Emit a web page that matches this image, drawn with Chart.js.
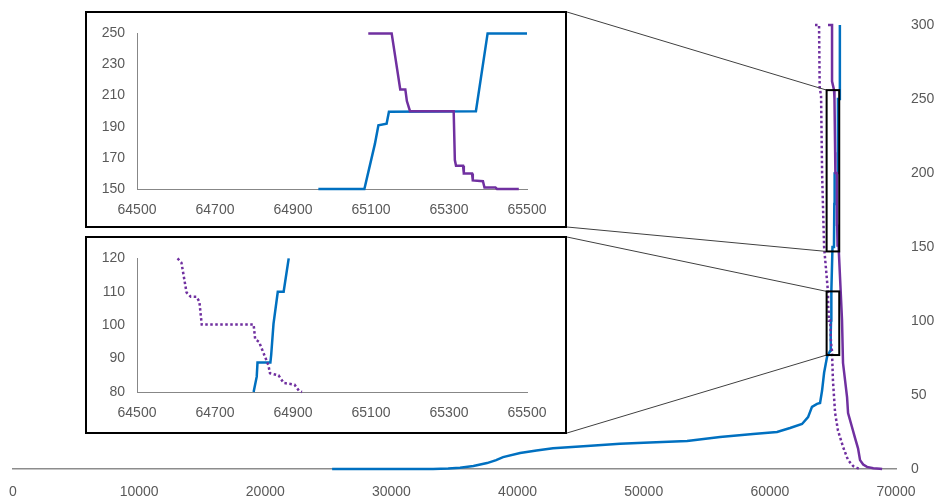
<!DOCTYPE html>
<html>
<head>
<meta charset="utf-8">
<script src="https://cdn.jsdelivr.net/npm/chart.js@4.4.0/dist/chart.umd.min.js"></script>
<style>
  body { margin: 0; background: #fff; }
  #main { position: absolute; left: 0; top: 0; }
  .inset { position: absolute; border: 2px solid #000; background: #fff; }
  #box1 { left: 85px; top: 11px; width: 478px; height: 213px; }
  #box2 { left: 85px; top: 236px; width: 478px; height: 194px; }
  .inset canvas { display: block; }
</style>
</head>
<body>
<canvas id="main" width="936" height="499"></canvas>
<div class="inset" id="box1"><canvas id="c1" width="478" height="213"></canvas></div>
<div class="inset" id="box2"><canvas id="c2" width="478" height="194"></canvas></div>
<script>
// Blue series, pieces outside the zoom windows
const blueLow = [[25300,0],[33300,0],[34500,0.3],[35440,0.8],[36500,2],[37580,4],[38300,6],[38850,8],
  [40200,10.8],[41500,12.5],[42810,14],[45510,15.5],[48120,17],[50000,17.8],[53440,19],[56050,21.6],
  [58670,23.6],[60570,25],[61600,27.7],[62550,30.4],[63030,35],[63340,42],[63740,44],[63980,44.6],
  [64140,53],[64300,65],[64540,76]];
const blueTop = [[65550,252],[65550,300]];

// Purple solid series
const purpleTop = [[64610,300],[64930,300],[64930,262],[65090,256]];
const purpleLow = [[65560,130],[65720,100.7],[65800,71.6],[66120,48.6],[66200,37.8],[66510,28.4],
  [66750,21],[66990,14],[67150,6],[67400,3],[67700,1.4],[68200,0.5],[68730,0.2],[68900,0]];

// Purple dotted series
const dottedTop = [[63580,300],[63900,300],[63950,258],[64060,252],[64140,200],[64300,150]];
const dottedLow = [[65000,60],[65170,38],[65400,26],[65800,15],[66200,6],[66600,2],[66910,0.7],[67150,0]];

// Upper zoom window (150-250)
const inset1Blue = [[64965,150],[65083,150],[65110,179],[65119,191],[65140,192],[65146,199.7],
  [65369,200],[65399,250],[65500,250]];
const inset1Purple = [[65093,250],[65153,250],[65175,214],[65188,214],[65192,206.5],[65200,200],
  [65312,200],[65315,168.6],[65318,165],[65336,165],[65338,160],[65359,160],[65361,155.5],
  [65387,155],[65391,151],[65419,151],[65423,150],[65479,150]];

// Lower zoom window (80-120)
const inset2Blue = [[64799,80],[64807,84.6],[64809,88.8],[64842,88.8],[64844,91],[64850,100.4],
  [64861,110],[64876,110],[64889,120]];
const inset2Dotted = [[64604,120],[64614,118.7],[64627,109.8],[64638,108.5],[64653,108.5],[64660,107],
  [64666,100.2],[64799,100.2],[64803,95.8],[64813,95],[64837,88],[64841,85.6],[64863,85],
  [64876,82.7],[64904,82.2],[64915,80.4],[64923,80]];

// Zoom rectangles drawn on the main chart (data units)
const zoomBoxes = [
  { xMin: 64500, xMax: 65500, yMin: 147, yMax: 256, box: 'box1' },
  { xMin: 64500, xMax: 65500, yMin: 77, yMax: 120, box: 'box2' }
];

const BLUE = '#0070C0';
const PURPLE = '#7030A0';
const FONT = { family: 'Liberation Sans', size: 14 };
const TICK = '#595959';

function pts(arr) { return arr.map(p => ({ x: p[0], y: p[1] })); }

function serie(arr, color, dotted) {
  return {
    data: pts(arr),
    borderColor: color,
    borderWidth: 2.5,
    borderDash: dotted ? [2.5, 2.5] : [],
    pointRadius: 0,
    showLine: true,
    fill: false,
    tension: 0,
    clip: false
  };
}

Chart.defaults.animation = false;
Chart.defaults.events = [];

// Draws zoom rectangles and the connector lines to the inset boxes
const zoomPlugin = {
  id: 'zoomPlugin',
  afterDatasetsDraw(chart) {
    const { ctx, scales: { x, y } } = chart;
    const base = chart.canvas.getBoundingClientRect();
    zoomBoxes.forEach(z => {
      const l = x.getPixelForValue(z.xMin), r = x.getPixelForValue(z.xMax);
      const t = y.getPixelForValue(z.yMax), b = y.getPixelForValue(z.yMin);
      const box = document.getElementById(z.box).getBoundingClientRect();
      ctx.save();
      ctx.strokeStyle = '#404040';
      ctx.lineWidth = 1;
      ctx.beginPath();
      ctx.moveTo(box.right - base.left, box.top - base.top + 1);
      ctx.lineTo(l, t);
      ctx.moveTo(box.right - base.left, box.bottom - base.top - 1);
      ctx.lineTo(l, b);
      ctx.stroke();
      ctx.strokeStyle = '#000';
      ctx.lineWidth = 2;
      ctx.strokeRect(l, t, r - l, b - t);
      ctx.restore();
    });
  }
};

new Chart(document.getElementById('main'), {
  type: 'scatter',
  data: {
    datasets: [
      serie(dottedTop.concat(inset2Dotted, dottedLow), PURPLE, true),
      serie(purpleTop.concat(inset1Purple, purpleLow), PURPLE, false),
      serie(blueLow.concat(inset2Blue, inset1Blue, blueTop), BLUE, false)
    ]
  },
  options: {
    responsive: false,
    layout: { padding: { left: 13, top: 25, right: 0, bottom: 0 } },
    plugins: { legend: { display: false }, tooltip: { enabled: false } },
    scales: {
      x: {
        type: 'linear', min: 0, max: 70000,
        grid: { display: false, drawTicks: false },
        border: { display: true, color: '#8c8c8c', width: 1.5 },
        ticks: { stepSize: 10000, autoSkip: false, maxRotation: 0, padding: 15, color: TICK, font: FONT,
          callback: v => String(v) },
        afterFit: s => { s.height = 30; s.paddingLeft = 0; s.paddingRight = 0; }
      },
      y: {
        position: 'right', min: 0, max: 300,
        grid: { display: false, drawTicks: false },
        border: { display: false },
        ticks: { stepSize: 50, padding: 15, color: TICK, font: FONT, callback: v => String(v) },
        afterFit: s => { s.width = 40; }
      }
    }
  },
  plugins: [zoomPlugin]
});

function insetChart(id, datasets, yMin, yMax, yStep, xHeight) {
  return new Chart(document.getElementById(id), {
    type: 'scatter',
    data: { datasets },
    options: {
      responsive: false,
      layout: { padding: { left: 0, top: 19, right: 38, bottom: 0 } },
      plugins: { legend: { display: false }, tooltip: { enabled: false } },
      scales: {
        x: {
          type: 'linear', min: 64500, max: 65500,
          grid: { display: false, drawTicks: false },
          border: { display: true, color: '#878787', width: 1 },
          ticks: { stepSize: 200, autoSkip: false, maxRotation: 0, padding: 13, color: TICK, font: FONT,
            callback: v => String(v) },
          afterFit: s => { s.height = xHeight; s.paddingLeft = 0; s.paddingRight = 0; }
        },
        y: {
          min: yMin, max: yMax,
          grid: { display: false, drawTicks: false },
          border: { display: true, color: '#878787', width: 1 },
          ticks: { stepSize: yStep, padding: 12, color: TICK, font: FONT, callback: v => String(v) },
          afterFit: s => { s.width = 50; }
        }
      }
    }
  });
}

insetChart('c1', [serie(inset1Purple, PURPLE, false), serie(inset1Blue, BLUE, false)], 150, 250, 20, 37);
insetChart('c2', [serie(inset2Dotted, PURPLE, true), serie(inset2Blue, BLUE, false)], 80, 120, 10, 40);
</script>
</body>
</html>
